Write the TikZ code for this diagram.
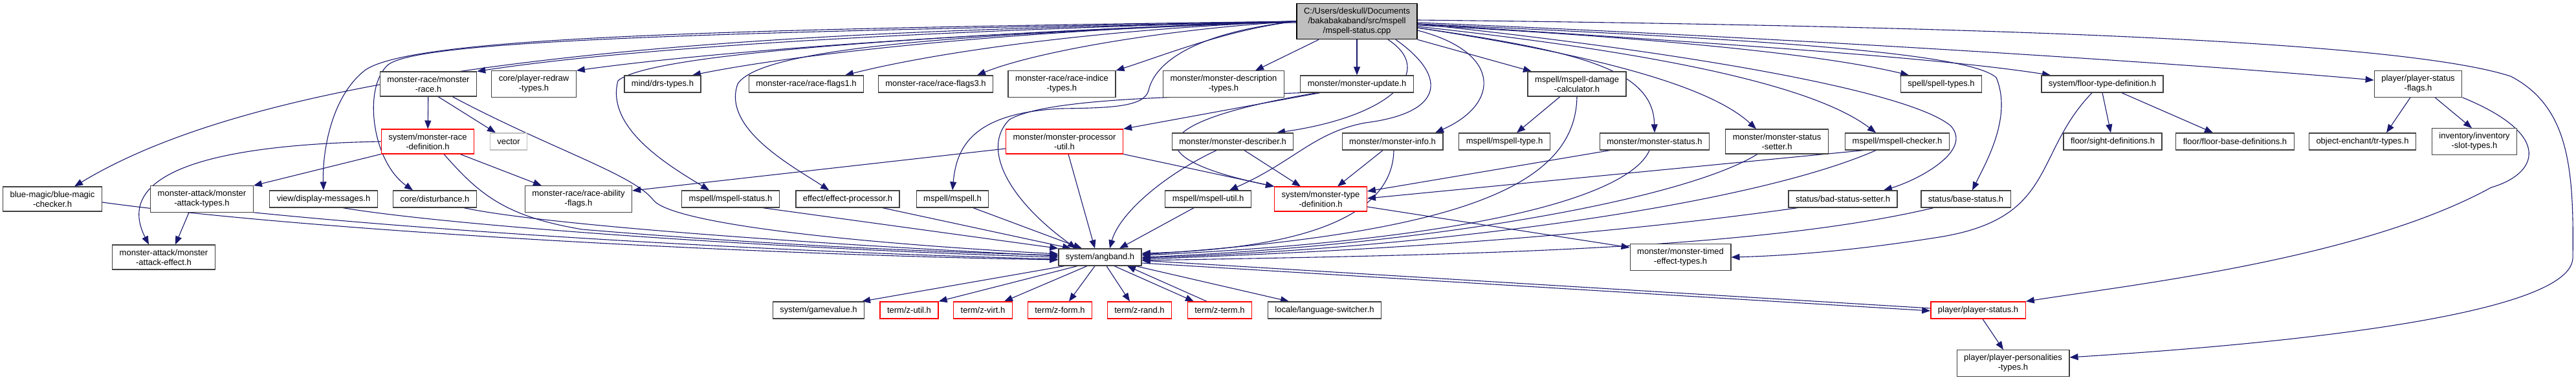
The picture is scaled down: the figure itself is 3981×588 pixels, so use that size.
\documentclass[tikz,border=0pt]{standalone}
\usepackage{fontspec}
\setmainfont{Liberation Sans}
\usetikzlibrary{positioning, calc, arrows.meta}
\definecolor{edgeblue}{HTML}{191970}
\pgfdeclarelayer{background}
\pgfsetlayers{background,main}

\begin{document}
\begin{tikzpicture}[x=1pt, y=-1pt,
  hdr/.style={draw=black!75, line width=1.3pt, fill=white, inner xsep=11pt, inner ysep=6.6pt,
    minimum height=26pt, align=center, font=\fontsize{13}{15}\selectfont},
  redhdr/.style={hdr, draw=red},
  exthdr/.style={hdr, draw=black!25},
  mainhdr/.style={hdr, draw=black, fill=black!25},
  dep/.style={draw=edgeblue, line width=1.1pt, -{Triangle[length=13pt,width=10pt]}}]
  \useasboundingbox (0,0) rectangle (3981,588);

  \node[mainhdr] (main) at (2097,33) {C:/Users/deskull/Documents\\/bakabakaband/src/mspell\\/mspell-status.cpp};

  \node[hdr] (mrace) at (662,130) {monster-race/monster\\-race.h};
  \node[hdr] (redraw) at (825,130) {core/player-redraw\\-types.h};
  \node[hdr] (drs) at (1024,130) {mind/drs-types.h};
  \node[hdr] (flags1) at (1246,130) {monster-race/race-flags1.h};
  \node[hdr] (flags3) at (1446,130) {monster-race/race-flags3.h};
  \node[hdr] (indice) at (1641,130) {monster-race/race-indice\\-types.h};
  \node[hdr] (desctypes) at (1891,130) {monster/monster-description\\-types.h};
  \node[hdr] (mupdate) at (2097,130) {monster/monster-update.h};
  \node[hdr] (dmgcalc) at (2437,130) {mspell/mspell-damage\\-calculator.h};
  \node[hdr] (spelltypes) at (3000,130) {spell/spell-types.h};
  \node[hdr] (floortype) at (3249,130) {system/floor-type-definition.h};
  \node[hdr] (psflags) at (3737,130) {player/player-status\\-flags.h};

  \node[redhdr] (racedef) at (661,219) {system/monster-race\\-definition.h};
  \node[exthdr] (vector) at (786,219) {vector};
  \node[redhdr] (procutil) at (1645,219) {monster/monster-processor\\-util.h};
  \node[hdr] (describer) at (1905,219) {monster/monster-describer.h};
  \node[hdr] (minfo) at (2152,219) {monster/monster-info.h};
  \node[hdr] (mstype) at (2325,219) {mspell/mspell-type.h};
  \node[hdr] (mstatus) at (2557,219) {monster/monster-status.h};
  \node[hdr] (setter) at (2746,219) {monster/monster-status\\-setter.h};
  \node[hdr] (checker) at (2932,219) {mspell/mspell-checker.h};
  \node[hdr] (sight) at (3265,219) {floor/sight-definitions.h};
  \node[hdr] (floorbase) at (3454,219) {floor/floor-base-definitions.h};
  \node[hdr] (trtypes) at (3651,219) {object-enchant/tr-types.h};
  \node[hdr] (slot) at (3824,219) {inventory/inventory\\-slot-types.h};

  \node[hdr] (bluemagic) at (81,308) {blue-magic/blue-magic\\-checker.h};
  \node[hdr] (atktypes) at (312,308) {monster-attack/monster\\-attack-types.h};
  \node[hdr] (dispmsg) at (500,308) {view/display-messages.h};
  \node[hdr] (disturb) at (672,308) {core/disturbance.h};
  \node[hdr] (abilflags) at (894,308) {monster-race/race-ability\\-flags.h};
  \node[hdr] (msstatus) at (1129,308) {mspell/mspell-status.h};
  \node[hdr] (effproc) at (1310,308) {effect/effect-processor.h};
  \node[hdr] (mspellh) at (1472,308) {mspell/mspell.h};
  \node[hdr] (msutil) at (1867,308) {mspell/mspell-util.h};
  \node[redhdr] (typedef) at (2041,308) {system/monster-type\\-definition.h};
  \node[hdr] (badstatus) at (2848,308) {status/bad-status-setter.h};
  \node[hdr] (basestatus) at (3038,308) {status/base-status.h};

  \node[hdr] (atkeffect) at (253,398) {monster-attack/monster\\-attack-effect.h};
  \node[hdr] (angband) at (1700,398) {system/angband.h};
  \node[hdr] (timed) at (2597,398) {monster/monster-timed\\-effect-types.h};

  \node[hdr] (gamevalue) at (1265,480) {system/gamevalue.h};
  \node[redhdr] (zutil) at (1405,480) {term/z-util.h};
  \node[redhdr] (zvirt) at (1519,480) {term/z-virt.h};
  \node[redhdr] (zform) at (1638,480) {term/z-form.h};
  \node[redhdr] (zrand) at (1761,480) {term/z-rand.h};
  \node[redhdr] (zterm) at (1885,480) {term/z-term.h};
  \node[hdr] (langsw) at (2047,480) {locale/language-switcher.h};
  \node[redhdr] (pstatus) at (3057,480) {player/player-status.h};

  \node[hdr] (personal) at (3111,562) {player/player-personalities\\-types.h};

  \begin{pgfonlayer}{background}
  % includes of the source file, leftwards
  \draw[dep] ([yshift=-2pt]main.west) .. controls (1200,45) and (450,85) .. ([xshift=34pt]bluemagic.north);
  \draw[dep] (main.west) .. controls (1500,45) and (1000,70) .. (mrace.north east);
  \draw[dep] (main.west) .. controls (1500,50) and (1100,80) .. (redraw.north east);
  \draw[dep] (main.west) .. controls (1600,45) and (1250,80) .. ([xshift=46pt]drs.north);
  \draw[dep] (main.west) .. controls (1700,45) and (1450,80) .. ([xshift=60pt]flags1.north);
  \draw[dep] (main.west) .. controls (1800,45) and (1600,80) .. ([xshift=64pt]flags3.north);
  \draw[dep] (main.west) .. controls (1900,45) and (1800,85) .. (indice.north east);
  \draw[dep] ([xshift=-59pt]main.south) -- ([xshift=49pt]desctypes.north);
  \draw[dep] (main.west) .. controls (1100,45) and (640,58) .. (565,108) .. controls (510,150) and (498,240) .. (dispmsg.north);
  \draw[dep] (main.west) .. controls (1100,50) and (650,62) .. (600,100) .. controls (560,135) and (575,250) .. ([xshift=-34pt]disturb.north);
  \draw[dep] (main.west) .. controls (1400,55) and (1000,85) .. (955,125) .. controls (935,200) and (1040,260) .. ([xshift=-33pt]msstatus.north);
  \draw[dep] (main.west) .. controls (1600,50) and (1180,65) .. (1140,130) .. controls (1115,200) and (1230,260) .. ([xshift=-29pt]effproc.north);
  \draw[dep] (main.west) .. controls (1850,50) and (1785,95) .. (1775,140) .. controls (1768,165) and (1720,167) .. (1640,168) .. controls (1500,175) and (1478,230) .. (mspellh.north);
  \draw[dep] (main) -- (mupdate);
  \draw[dep] ([xshift=48pt]main.south) .. controls (2220,110) and (2150,180) .. ([xshift=68pt]describer.north);
  \draw[dep] ([xshift=60pt]main.south) .. controls (2240,120) and (2230,175) .. (2110,190) .. controls (2030,205) and (2000,250) .. ([xshift=33pt]msutil.north);

  % includes of the source file, rightwards
  \draw[dep] ([yshift=-14pt]main.east) .. controls (2320,80) and (2320,160) .. ([xshift=66pt]minfo.north);
  \draw[dep] (main.south east) -- ([xshift=-70pt]dmgcalc.north);
  \draw[dep] ([yshift=-10pt]main.east) .. controls (2450,80) and (2555,110) .. (mstatus.north);
  \draw[dep] ([yshift=-10pt]main.east) .. controls (2500,90) and (2650,140) .. ([xshift=-32pt]setter.north);
  \draw[dep] ([yshift=-8pt]main.east) .. controls (2550,80) and (2800,130) .. ([xshift=-33pt]checker.north);
  \draw[dep] ([yshift=-6pt]main.east) .. controls (2500,55) and (2800,80) .. ([xshift=-50pt]spelltypes.north);
  \draw[dep] ([yshift=-4pt]main.east) .. controls (2600,80) and (2950,140) .. (3015,195) .. controls (3050,235) and (2960,280) .. ([xshift=63pt]badstatus.north);
  \draw[dep] ([yshift=-4pt]main.east) .. controls (2700,60) and (3040,80) .. (3085,120) .. controls (3110,180) and (3070,250) .. ([xshift=10pt]basestatus.north);
  \draw[dep] ([yshift=-4pt]main.east) .. controls (2700,70) and (3000,90) .. ([xshift=-80pt]floortype.north);
  \draw[dep] ([yshift=-2pt]main.east) .. controls (2800,60) and (3400,100) .. ([yshift=6pt]psflags.west);
  \draw[dep] ([yshift=2pt]main.east) .. controls (3000,40) and (3700,60) .. (3880,118) .. controls (3970,165) and (3978,260) .. (3976,400) .. controls (3970,500) and (3400,540) .. ([yshift=9pt]personal.east);

  % second level
  \draw[dep] (mrace) -- (racedef);
  \draw[dep] ([xshift=15pt]mrace.south) -- ([xshift=-20pt]vector.north);
  \draw[dep] ([xshift=37pt]mrace.south) .. controls (850,230) and (980,270) .. (1010,310) .. controls (1040,345) and (1300,375) .. ([yshift=5pt]angband.west);
  \draw[dep] (racedef.south west) -- (atktypes.north east);
  \draw[dep] (racedef.west) .. controls (260,225) and (185,290) .. ([xshift=-23pt]atkeffect.north);
  \draw[dep] ([xshift=50pt]racedef.south) -- ([xshift=-57pt]abilflags.north);
  \draw[dep] ([xshift=25pt]racedef.south) .. controls (740,300) and (780,335) .. (900,355) .. controls (1200,380) and (1450,390) .. ([yshift=3pt]angband.west);
  \draw[dep] ([xshift=-20pt]atktypes.south) -- ([xshift=18pt]atkeffect.north);
  \draw[dep] (atktypes.south east) .. controls (700,360) and (1200,390) .. ([yshift=-3pt]angband.west);
  \draw[dep] ([yshift=-5pt]bluemagic.east) .. controls (500,360) and (1200,395) .. ([yshift=-4pt]angband.west);
  \draw[dep] ([xshift=30pt]dispmsg.south) .. controls (700,350) and (1200,385) .. (angband.west);
  \draw[dep] ([xshift=45pt]disturb.south) .. controls (850,350) and (1300,380) .. ([yshift=2pt]angband.west);

  \draw[dep] ([xshift=-57pt]mupdate.south) -- (procutil.north east);
  \draw[dep] ([xshift=-62pt]mupdate.south) .. controls (1760,190) and (1760,245) .. (typedef.north west);
  \draw[dep] (mupdate.south west) .. controls (1850,150) and (1620,150) .. (1560,185) .. controls (1515,230) and (1560,310) .. ([xshift=-37pt]angband.north);
  \draw[dep] ([yshift=-11pt]procutil.west) -- ([yshift=13pt]abilflags.east);
  \draw[dep] ([xshift=6pt]procutil.south) -- ([xshift=-8pt]angband.north);
  \draw[dep] (procutil.south east) -- (typedef.north west);

  \draw[dep] ([xshift=50pt]msstatus.south) -- (angband.north west);
  \draw[dep] ([xshift=54pt]effproc.south) -- ([xshift=-45pt]angband.north);
  \draw[dep] ([xshift=32pt]mspellh.south) -- ([xshift=-28pt]angband.north);
  \draw[dep] ([xshift=-22pt]msutil.south) -- ([xshift=30pt]angband.north);
  \draw[dep] ([xshift=-25pt]describer.south) .. controls (1800,270) and (1730,330) .. ([xshift=15pt]angband.north);
  \draw[dep] ([xshift=18pt]describer.south) -- ([xshift=-31pt]typedef.north);
  \draw[dep] ([xshift=-15pt]minfo.south) -- ([xshift=26pt]typedef.north);
  \draw[dep] ([xshift=2pt]minfo.south) .. controls (2152,340) and (2000,385) .. ([yshift=6pt]angband.east);

  \draw[dep] ([xshift=-26pt]dmgcalc.south) -- ([xshift=19pt]mstype.north);
  \draw[dep] (dmgcalc.south) .. controls (2435,290) and (2250,360) .. ([yshift=4pt]angband.east);
  \draw[dep] ([xshift=-69pt]mstatus.south) -- ([yshift=12pt]typedef.east);
  \draw[dep] ([xshift=-8pt]mstatus.south) .. controls (2520,300) and (2300,370) .. ([yshift=3pt]angband.east);
  \draw[dep] ([xshift=-30pt]setter.south) .. controls (2600,310) and (2200,380) .. (angband.east);
  \draw[dep] ([xshift=-52pt]checker.south) -- ([yshift=1pt]typedef.east);
  \draw[dep] ([xshift=-33pt]checker.south) .. controls (2700,320) and (2200,385) .. ([yshift=-1pt]angband.east);
  \draw[dep] ([xshift=-70pt]badstatus.south) .. controls (2400,375) and (2000,392) .. ([yshift=-3pt]angband.east);
  \draw[dep] ([xshift=-50pt]basestatus.south) .. controls (2700,390) and (2200,395) .. ([yshift=-5pt]angband.east);
  \draw[dep] ([yshift=-12pt]typedef.east) -- ([yshift=15pt]timed.west);

  \draw[dep] (floortype.south) -- ([xshift=-3pt]sight.north);
  \draw[dep] ([xshift=30pt]floortype.south) -- ([xshift=-34pt]floorbase.north);
  \draw[dep] ([xshift=-16pt]floortype.south) .. controls (3140,240) and (3180,340) .. (2990,368) .. controls (2850,390) and (2750,396) .. (timed.east);
  \draw[dep] ([xshift=-12pt]psflags.south) -- ([xshift=37pt]trtypes.north);
  \draw[dep] ([xshift=26pt]psflags.south) -- ([xshift=-4pt]slot.north);
  \draw[dep] (psflags.south east) .. controls (3950,210) and (3920,270) .. (3850,290) .. controls (3650,400) and (3300,440) .. (pstatus.north east);

  % from system/angband.h
  \draw[dep] ([xshift=-55pt]angband.south) -- ([xshift=67pt]gamevalue.north);
  \draw[dep] ([xshift=-35pt]angband.south) -- (zutil.north east);
  \draw[dep] ([xshift=-20pt]angband.south) -- ([xshift=33pt]zvirt.north);
  \draw[dep] ([xshift=-8pt]angband.south) -- ([xshift=14pt]zform.north);
  \draw[dep] ([xshift=10pt]angband.south) -- ([xshift=-15pt]zrand.north);
  \draw[dep] ([xshift=22pt]angband.south) -- ([xshift=-40pt]zterm.north);
  \draw[dep] ([xshift=-20pt]zterm.north) -- ([xshift=42pt]angband.south);
  \draw[dep] ([xshift=55pt]angband.south) -- ([xshift=-55pt]langsw.north);
  \draw[dep] ([yshift=-9pt]angband.east) -- ([yshift=-1pt]pstatus.west);
  \draw[dep] ([yshift=3pt]pstatus.west) -- ([yshift=-5pt]angband.east);
  \draw[dep] ([xshift=7pt]pstatus.south) -- ([xshift=-15pt]personal.north);
  \end{pgfonlayer}
\end{tikzpicture}
\end{document}
